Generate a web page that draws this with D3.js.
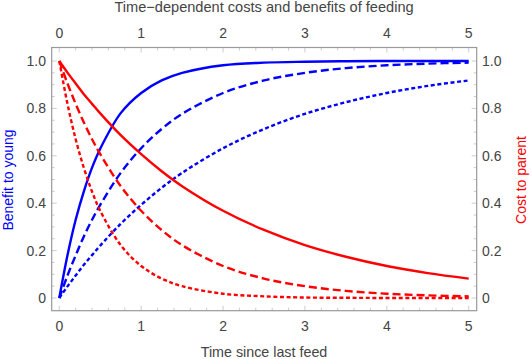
<!DOCTYPE html>
<html>
<head>
<meta charset="utf-8">
<script src="https://cdn.jsdelivr.net/npm/d3@7"></script>
<style>
body{margin:0;background:#fff;}
text{font-family:"Liberation Sans",Arial,sans-serif;}
</style>
</head>
<body>
<div class="chart"></div>
<script>
// values
const times = [0, 0.1, 0.2, 0.3, 0.4, 0.5, 0.75, 1, 1.25, 1.5, 2, 2.5, 3, 3.5, 4, 4.5, 5]
const benefitFast = [0, 0.18, 0.33, 0.45, 0.55, 0.63, 0.78, 0.865, 0.918, 0.95, 0.982, 0.993, 0.997, 0.999, 1, 1, 1]
const benefitMid = [0, 0.095, 0.18, 0.26, 0.33, 0.393, 0.528, 0.632, 0.713, 0.777, 0.865, 0.918, 0.95, 0.97, 0.982, 0.989, 0.993]
const benefitSlow = [0, 0.049, 0.095, 0.14, 0.181, 0.221, 0.313, 0.393, 0.465, 0.528, 0.632, 0.713, 0.777, 0.826, 0.865, 0.895, 0.918]
const costSlow = [1, 0.951, 0.905, 0.86, 0.819, 0.779, 0.687, 0.607, 0.535, 0.472, 0.368, 0.287, 0.223, 0.174, 0.135, 0.105, 0.082]
const costMid = [1, 0.905, 0.819, 0.741, 0.67, 0.607, 0.472, 0.368, 0.287, 0.223, 0.135, 0.082, 0.05, 0.03, 0.018, 0.011, 0.007]
const costFast = [1, 0.819, 0.67, 0.549, 0.449, 0.368, 0.223, 0.135, 0.082, 0.05, 0.018, 0.007, 0.002, 0.001, 0, 0, 0]
const xTicks = [0, 1, 2, 3, 4, 5]
const yTicks = [0, 0.2, 0.4, 0.6, 0.8, 1.0]

const series = [
	{vals: benefitFast, color: "#0000ff", dash: null},
	{vals: benefitMid, color: "#0000ff", dash: "8,4"},
	{vals: benefitSlow, color: "#0000ff", dash: "4,2.6"},
	{vals: costSlow, color: "#ff0000", dash: null},
	{vals: costMid, color: "#ff0000", dash: "8,4"},
	{vals: costFast, color: "#ff0000", dash: "4,2.6"}
]

const W = 532, H = 359
const frame = {left: 51.7, right: 476.7, top: 47.5, bottom: 310.7}
const textColor = "#444"

let svg = d3.select(".chart").append("svg")
	.attr("width", W)
	.attr("height", H)

let x = d3.scaleLinear().domain([0, 5]).range([59.3, 468.7])
let y = d3.scaleLinear().domain([0, 1]).range([298, 61])

// faint inner ticks
let tickG = svg.append("g").attr("stroke", "#ccc").attr("stroke-width", 1)
d3.range(0, 5.001, 0.2).forEach(v => {
	let major = Math.abs(v - Math.round(v)) < 1e-6
	let len = major ? 5 : 3
	tickG.append("line").attr("x1", x(v)).attr("x2", x(v)).attr("y1", frame.bottom).attr("y2", frame.bottom - len)
	tickG.append("line").attr("x1", x(v)).attr("x2", x(v)).attr("y1", frame.top).attr("y2", frame.top + len)
})
d3.range(0, 1.0001, 0.05).forEach(v => {
	let major = Math.abs(v * 5 - Math.round(v * 5)) < 1e-6
	let len = major ? 5 : 3
	tickG.append("line").attr("y1", y(v)).attr("y2", y(v)).attr("x1", frame.left).attr("x2", frame.left + len)
	tickG.append("line").attr("y1", y(v)).attr("y2", y(v)).attr("x1", frame.right).attr("x2", frame.right - len)
})

// curves
let line = d3.line()
	.x((d, i) => x(times[i]))
	.y(d => y(d))
	.curve(d3.curveCatmullRom.alpha(0.5))

series.forEach(s => {
	svg.append("path")
		.attr("d", line(s.vals))
		.attr("fill", "none")
		.attr("stroke", s.color)
		.attr("stroke-width", 2.4)
		.attr("stroke-dasharray", s.dash)
})

// frame
svg.append("rect")
	.attr("x", frame.left)
	.attr("y", frame.top)
	.attr("width", frame.right - frame.left)
	.attr("height", frame.bottom - frame.top)
	.attr("fill", "none")
	.attr("stroke", "#999")
	.attr("stroke-width", 1.2)

// tick labels
let fmtY = d => d === 0 ? "0" : d3.format(".1f")(d)
let labels = svg.append("g").attr("fill", textColor).attr("font-size", 14)
xTicks.forEach(v => {
	labels.append("text").attr("x", x(v)).attr("y", 38).attr("text-anchor", "middle").text(v)
	labels.append("text").attr("x", x(v)).attr("y", 331).attr("text-anchor", "middle").text(v)
})
yTicks.forEach(v => {
	labels.append("text").attr("x", 46).attr("y", y(v) + 5).attr("text-anchor", "end").text(fmtY(v))
	labels.append("text").attr("x", 482).attr("y", y(v) + 5).attr("text-anchor", "start").text(fmtY(v))
})

// titles
svg.append("text")
	.attr("x", 264).attr("y", 12)
	.attr("text-anchor", "middle")
	.attr("font-size", 14.6)
	.attr("fill", textColor)
	.text("Time\u2212dependent costs and benefits of feeding")
svg.append("text")
	.attr("x", 264).attr("y", 357)
	.attr("text-anchor", "middle")
	.attr("font-size", 14.3)
	.attr("fill", textColor)
	.text("Time since last feed")
svg.append("text")
	.attr("transform", "translate(13,180) rotate(-90)")
	.attr("text-anchor", "middle")
	.attr("font-size", 14)
	.attr("fill", "#0000ff")
	.text("Benefit to young")
svg.append("text")
	.attr("transform", "translate(526,180) rotate(-90)")
	.attr("text-anchor", "middle")
	.attr("font-size", 14)
	.attr("fill", "#ff0000")
	.text("Cost to parent")
</script>
</body>
</html>
